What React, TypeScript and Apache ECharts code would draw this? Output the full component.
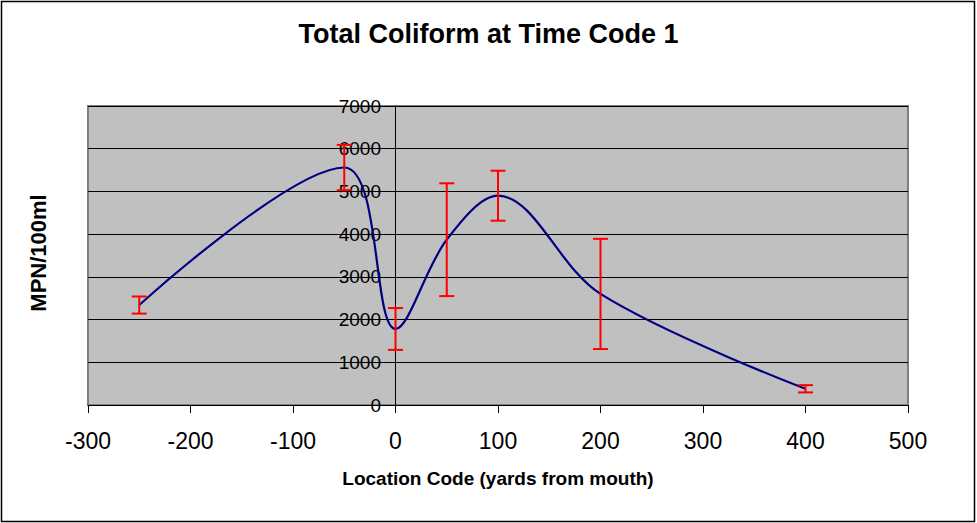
import React, { useEffect, useRef } from "react";
import * as echarts from "echarts";

const titleText = "Total Coliform at Time Code 1";
const xAxisTitle = "Location Code (yards from mouth)";
const yAxisTitle = "MPN/100ml";

// Location codes (yards from mouth)
const locations = [-250, -50, 0, 50, 100, 200, 400];
// Mean total coliform (MPN/100ml)
const means = [2340, 5560, 1780, 3870, 4900, 2600, 380];
// Error (± half-range) for each location
const errors = [200, 530, 490, 1320, 585, 1290, 85];

const FONT = '"Liberation Sans", Arial, sans-serif';

export default function App() {
  const ref = useRef<HTMLDivElement>(null);

  useEffect(() => {
    if (!ref.current) return;
    const chart = echarts.init(ref.current, null, { renderer: "svg" });

    const lineData = locations.map((x, i) => [x, means[i]]);
    const errData = locations.map((x, i) => [x, means[i] - errors[i], means[i] + errors[i]]);

    const option: any = {
      animation: false,
      backgroundColor: "#FFFFFF",
      title: {
        text: titleText,
        left: "center",
        top: 15,
        textStyle: { fontFamily: FONT, fontSize: 27, fontWeight: "bold", color: "#000" },
      },
      grid: {
        left: 88,
        top: 106,
        width: 820,
        height: 299,
        show: true,
        backgroundColor: "#C0C0C0",
        borderColor: "#808080",
        borderWidth: 2,
      },
      xAxis: {
        type: "value",
        min: -300,
        max: 500,
        interval: 100,
        name: xAxisTitle,
        nameLocation: "middle",
        nameGap: 64,
        nameTextStyle: { fontFamily: FONT, fontSize: 19, fontWeight: "bold", color: "#000" },
        axisLine: { onZero: false, lineStyle: { color: "#000", width: 1 } },
        axisTick: { show: true, inside: false, length: 8, lineStyle: { color: "#000" } },
        axisLabel: {
          fontFamily: FONT,
          fontSize: 23,
          color: "#000",
          margin: 24,
          showMinLabel: true,
          showMaxLabel: true,
        },
        splitLine: { show: false },
      },
      yAxis: {
        type: "value",
        min: 0,
        max: 7000,
        interval: 1000,
        position: "left",
        offset: -307,
        axisLine: { show: true, onZero: false, lineStyle: { color: "#000", width: 1 } },
        axisTick: { show: true, inside: false, length: 7, lineStyle: { color: "#000" } },
        axisLabel: {
          fontFamily: FONT,
          fontSize: 19,
          color: "#000",
          margin: 14,
          showMinLabel: true,
          showMaxLabel: true,
          formatter: (v: number) => String(v),
        },
        splitLine: { show: true, lineStyle: { color: "#000", width: 1 } },
      },
      graphic: [
        {
          type: "rect",
          shape: { x: 1.5, y: 1.5, width: 973, height: 520 },
          style: { fill: "none", stroke: "#000", lineWidth: 1.5 },
          silent: true,
          z: 100,
        },
        {
          type: "text",
          x: 38,
          y: 253,
          rotation: Math.PI / 2,
          style: {
            text: yAxisTitle,
            fontFamily: FONT,
            fontSize: 22,
            fontWeight: "bold",
            fill: "#000",
            align: "center",
            verticalAlign: "middle",
          },
        },
      ],
      series: [
        {
          type: "line",
          data: lineData,
          smooth: 0.35,
          showSymbol: false,
          symbol: "none",
          lineStyle: { color: "#000080", width: 2.2 },
          z: 3,
        },
        {
          type: "custom",
          data: errData,
          encode: { x: 0, y: [1, 2] },
          z: 5,
          renderItem: (params: any, api: any) => {
            const x = api.value(0);
            const lo = api.value(1);
            const hi = api.value(2);
            const pHi = api.coord([x, hi]);
            const pLo = api.coord([x, lo]);
            const w = 7.5;
            const style = { stroke: "#FF0000", lineWidth: 2 };
            return {
              type: "group",
              children: [
                { type: "line", shape: { x1: pHi[0], y1: pHi[1], x2: pLo[0], y2: pLo[1] }, style },
                { type: "line", shape: { x1: pHi[0] - w, y1: pHi[1], x2: pHi[0] + w, y2: pHi[1] }, style },
                { type: "line", shape: { x1: pLo[0] - w, y1: pLo[1], x2: pLo[0] + w, y2: pLo[1] }, style },
              ],
            };
          },
        },
      ],
    };

    chart.setOption(option);
    return () => {
      chart.dispose();
    };
  }, []);

  return (
    <div
      ref={ref}
      style={{ position: "absolute", left: 0, top: 0, width: 977, height: 523 }}
    />
  );
}
